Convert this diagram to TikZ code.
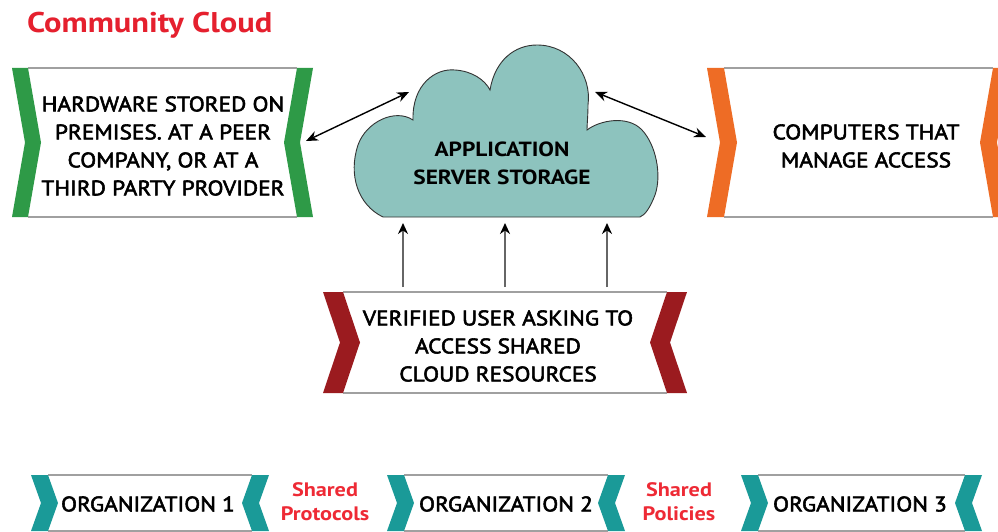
\documentclass[tikz,border=0pt]{standalone}
\usepackage{fontspec}
\setmainfont{PT Sans}
\newfontfamily\lblfont{PT Sans}[FakeStretch=1.11, FakeBold=2.6]
\newfontfamily\hvyfont{PT Sans}[FakeStretch=1.14]
\usetikzlibrary{arrows.meta}
\definecolor{bandgreen}{HTML}{2E9A47}
\definecolor{bandorange}{HTML}{EE6C25}
\definecolor{bandred}{HTML}{9B1B1F}
\definecolor{bandteal}{HTML}{1A9A98}
\definecolor{cloudfill}{HTML}{8DC3BE}
\definecolor{titlered}{HTML}{E5202E}
\definecolor{sharedred}{HTML}{EE2A35}
\definecolor{linegray}{HTML}{A0A0A0}
\newcommand\ribbonbox[7]{%
  \fill[white] ({#1+#5},#3) rectangle ({#2-#5},#4);
  \draw[grayline] ({#1+#5},#3) -- ({#2-#5},#3);
  \draw[grayline] ({#1+#5},#4) -- ({#2-#5},#4);
  \fill[#7] (#1,#3) -- ({#1+#5},#3) -- ({#1+#5+#6},{(#3+#4)/2}) -- ({#1+#5},#4) -- (#1,#4) -- ({#1+#6},{(#3+#4)/2}) -- cycle;
  \fill[#7] (#2,#3) -- ({#2-#5},#3) -- ({#2-#5-#6},{(#3+#4)/2}) -- ({#2-#5},#4) -- (#2,#4) -- ({#2-#6},{(#3+#4)/2}) -- cycle;
}
\tikzset{
  grayline/.style={draw=linegray, line width=1.4pt},
  lbl/.style={align=center, inner sep=0pt, font=\lblfont\fontsize{21}{28}\selectfont, text=black},
  cloudlbl/.style={align=center, inner sep=0pt, font=\hvyfont\fontsize{20.5}{28}\selectfont\bfseries, text=black},
  sharedlbl/.style={align=center, inner sep=0pt, font=\hvyfont\fontsize{19.5}{24}\selectfont\bfseries, text=sharedred},
  dblarrow/.style={{Stealth[length=12pt,width=10pt]}-{Stealth[length=12pt,width=10pt]}, line width=1.4pt, black},
  uparrow/.style={-{Stealth[length=11pt,width=10pt,color=black]}, line width=1.8pt, draw=black!60},
}
\begin{document}
\begin{tikzpicture}[x=1pt,y=-1pt]
\useasboundingbox (0,0) rectangle (998,532);
\fill[white] (0,0) rectangle (998,532);
% title
\node[anchor=base west, inner sep=0pt, font=\hvyfont\fontsize{28.5}{30}\selectfont\bfseries, text=titlered] (title) at (27,33) {Community Cloud};
% ribbons
\ribbonbox{12}{313}{68}{217}{16}{13}{bandgreen}
\ribbonbox{707}{1010}{68}{217}{17}{13}{bandorange}
\ribbonbox{323}{687}{292}{393}{20}{17}{bandred}
\ribbonbox{31}{269}{475}{531}{17}{10}{bandteal}
\ribbonbox{387}{625}{475}{531}{17}{10}{bandteal}
\ribbonbox{741}{982}{475}{531}{17}{10}{bandteal}
% cloud
\draw[fill=cloudfill, draw=black!80, line width=0.9pt]
  (383,217) .. controls (358,205) and (348,175) .. (358,145)
  .. controls (366,122) and (395,108) .. (413,120)
  .. controls (412,85) and (435,68) .. (455,70)
  .. controls (472,71) and (485,80) .. (490,90)
  .. controls (495,60) and (515,45) .. (537,45)
  .. controls (570,45) and (592,75) .. (588,105)
  .. controls (588,115) and (587,125) .. (587,130)
  .. controls (600,120) and (628,115) .. (642,130)
  .. controls (656,145) and (662,175) .. (655,195)
  .. controls (650,208) and (645,215) .. (640,217) -- cycle;
% labels
\node[lbl] (hw) at (163,146) {HARDWARE STORED ON\\PREMISES. AT A PEER\\COMPANY, OR AT A\\THIRD PARTY PROVIDER};
\node[lbl] (comp) at (866,146) {COMPUTERS THAT\\MANAGE ACCESS};
\node[cloudlbl] (cloud) at (502,163) {APPLICATION\\SERVER STORAGE};
\node[lbl] (user) at (498,346) {VERIFIED USER ASKING TO\\ACCESS SHARED\\CLOUD RESOURCES};
\node[lbl] (org1) at (148,504) {ORGANIZATION 1};
\node[lbl] (org2) at (506,504) {ORGANIZATION 2};
\node[lbl] (org3) at (860,504) {ORGANIZATION 3};
\node[sharedlbl] (sp1) at (325,502) {Shared\\Protocols};
\node[sharedlbl] (sp2) at (679,502) {Shared\\Policies};
% connector coordinates
\coordinate (hwR) at (306,141);
\coordinate (cloudL) at (409,92);
\coordinate (cloudR) at (595,92);
\coordinate (compL) at (706,137);
\coordinate (u1) at (403,287);
\coordinate (u2) at (505,287);
\coordinate (u3) at (607,287);
\coordinate (c1) at (403,223);
\coordinate (c2) at (505,223);
\coordinate (c3) at (607,223);
\draw[dblarrow] (hwR) -- (cloudL);
\draw[dblarrow] (cloudR) -- (compL);
\draw[uparrow] (u1) -- (c1);
\draw[uparrow] (u2) -- (c2);
\draw[uparrow] (u3) -- (c3);
\end{tikzpicture}
\end{document}
